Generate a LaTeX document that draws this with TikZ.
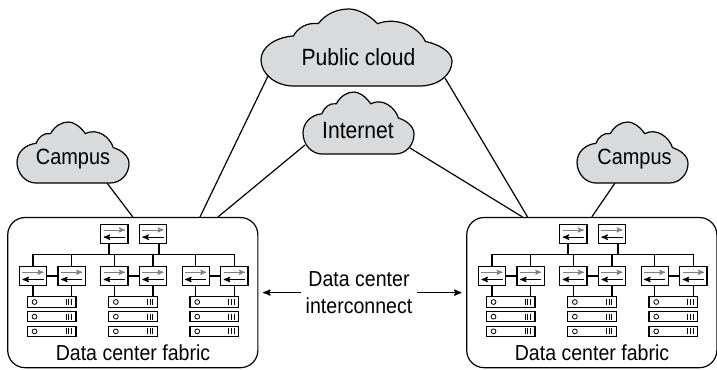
\documentclass[tikz,border=0pt]{standalone}
\usepackage{fontspec}
\setmainfont[FakeStretch=.9]{Liberation Sans}
\usetikzlibrary{arrows, positioning, backgrounds}
\definecolor{cloudgray}{HTML}{D9DADB}
\tikzset{
  switch_box/.style={rectangle, draw=black, fill=white, line width=.9pt, inner sep=0pt,
    minimum width=20.4pt, minimum height=14.4pt,
    path picture={
      \draw[->, gray, line width=.7pt] ([xshift=2.2pt,yshift=2.8pt]path picture bounding box.west) -- ([xshift=-2.2pt,yshift=2.8pt]path picture bounding box.east);
      \draw[->, black, line width=.8pt] ([xshift=-2.2pt,yshift=-2.6pt]path picture bounding box.east) -- ([xshift=2.2pt,yshift=-2.6pt]path picture bounding box.west);
    }},
  server_box/.style={rectangle, draw=black, fill=white, line width=.9pt, inner sep=0pt,
    minimum width=36.6pt, minimum height=7.8pt,
    path picture={
      \draw[line width=.6pt] ([xshift=5.5pt]path picture bounding box.west) circle (1.8pt);
      \foreach \bar in {3.6,5.5,7.4}
        \draw[line width=.6pt] ([xshift=-\bar pt,yshift=-2.2pt]path picture bounding box.east) -- ([xshift=-\bar pt,yshift=2.2pt]path picture bounding box.east);
    }},
  fabric_box/.style={rectangle, draw=black, fill=white, line width=.9pt, rounded corners=13pt,
    minimum width=187.6pt, minimum height=112.6pt},
  cloud_shape/.style={draw=black, fill=cloudgray, line width=.9pt},
  cloud_link/.style={draw=black, line width=.9pt},
  cloud_label/.style={font=\fontsize{17.6}{21}\selectfont, inner sep=0pt},
  small_label/.style={font=\fontsize{16.3}{20}\selectfont, align=center}
}
% left, top, width, height
\newcommand{\cloudshape}[4]{
  \draw[cloud_shape, shift={(#1,#2)}, x=#3*.75pt, y=-#4*.75pt]
    (.17,1) -- (.83,1)
    .. controls (.93,1) and (1,.85) .. (1,.68)
    .. controls (1,.55) and (.93,.46) .. (.86,.42)
    .. controls (.83,.25) and (.72,.09) .. (.61,.19)
    .. controls (.56,.06) and (.50,0) .. (.46,0)
    .. controls (.40,0) and (.34,.06) .. (.30,.19)
    .. controls (.24,.17) and (.19,.25) .. (.17,.35)
    .. controls (.07,.37) and (0,.5) .. (0,.66)
    .. controls (0,.85) and (.08,1) .. (.17,1) -- cycle;
}
\begin{document}
\begin{tikzpicture}[x=.75pt, y=-.75pt, >=stealth', line width=.8pt]
    \useasboundingbox (0,0) rectangle (717,369);
    % fabrics
    \foreach \fab/\xfab in {L/0, R/459} {
      \begin{scope}[xshift=\xfab*.75pt]
        \node[fabric_box] (\fab-box) at (132.8,292.6) {};
        \node[switch_box] (\fab-top1) at (114.3,233.7) {};
        \node[switch_box, right=7.7pt of \fab-top1] (\fab-top2) {};
        \coordinate (\fab-bus) at (133,254.3);
        \foreach \grp/\xgrp in {a/0, b/81.3, c/162.7} {
          \node[switch_box] (\fab-\grp1) at (33+\xgrp,276) {};
          \node[switch_box, right=7.7pt of \fab-\grp1] (\fab-\grp2) {};
          \node[server_box] (\fab-\grp s1) at (51.6+\xgrp,302) {};
          \node[server_box, below=2.3pt of \fab-\grp s1] (\fab-\grp s2) {};
          \node[server_box, below=2.3pt of \fab-\grp s2] (\fab-\grp s3) {};
          \draw (\fab-\grp1) -- (\fab-\grp2);
          \draw (\fab-\grp1.south) -- (\fab-\grp1.south |- \fab-\grp s1.north);
          \draw (\fab-\grp2.south) -- (\fab-\grp2.south |- \fab-\grp s1.north);
          \draw (\fab-\grp1.north) -- (\fab-\grp1.north |- \fab-bus);
          \draw (\fab-\grp2.north) -- (\fab-\grp2.north |- \fab-bus);
        }
        \draw (\fab-a1.north |- \fab-bus) -- (\fab-c2.north |- \fab-bus);
        \draw ([xshift=-4pt]\fab-top1.south) -- ([xshift=-4pt]\fab-top1.south |- \fab-bus);
        \draw ([xshift=4.5pt]\fab-top2.south) -- ([xshift=4.5pt]\fab-top2.south |- \fab-bus);
        \node[small_label] (\fab-label) at (133,353) {Data center fabric};
      \end{scope}
    }
    % clouds
    \cloudshape{261}{9}{191}{77}
    \node[cloud_label] (public) at (358.5,57) {Public cloud};
    \cloudshape{303}{92}{111}{62}
    \node[cloud_label] (internet) at (358,131) {Internet};
    \cloudshape{17}{122}{112}{61}
    \node[cloud_label, font=\fontsize{16.6}{19}\selectfont] (campus1) at (73,159) {Campus};
    \cloudshape{577}{122}{111}{61}
    \node[cloud_label, font=\fontsize{16.6}{19}\selectfont] (campus2) at (634.5,159) {Campus};
    \coordinate (public_l) at (268,76);
    \coordinate (public_r) at (445,78);
    \coordinate (internet_l) at (305,145);
    \coordinate (internet_r) at (410,148);
    \coordinate (campus1_c) at (107,183);
    \coordinate (campus2_c) at (615,183);
    \begin{scope}[on background layer]
      \draw[cloud_link] (public_l) -- ([xshift=50.4pt]L-box.north);
      \draw[cloud_link] (internet_l) -- ([xshift=63.9pt]L-box.north);
      \draw[cloud_link] (campus1_c) -- (L-box.north);
      \draw[cloud_link] (public_r) -- ([xshift=-48.2pt]R-box.north);
      \draw[cloud_link] (internet_r) -- ([xshift=-52pt]R-box.north);
      \draw[cloud_link] (campus2_c) -- (R-box.north);
    \end{scope}
    \node[small_label] (dci) at (359,292.6) {Data center\\interconnect};
    \draw[->, line width=1pt, shorten >=3.5pt] (dci) -- (L-box);
    \draw[->, line width=1pt, shorten >=3.5pt] (dci) -- (R-box);
\end{tikzpicture}
\end{document}
